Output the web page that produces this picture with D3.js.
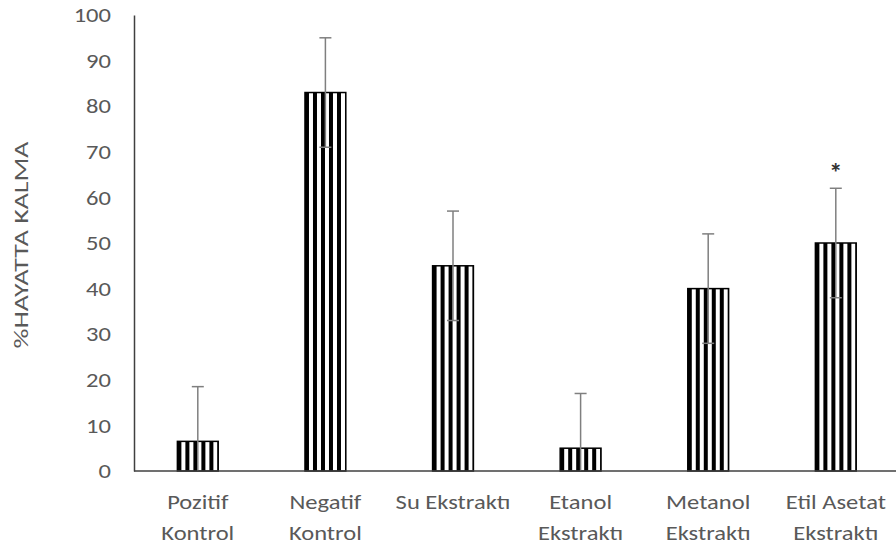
<!DOCTYPE html>
<html>
<head>
<meta charset="utf-8">
<script src="https://cdn.jsdelivr.net/npm/d3@7"></script>
<style>
  html, body { margin: 0; padding: 0; background: #fff; }
  svg { display: block; }
  text { font-family: Carlito, Calibri, Lato, "Open Sans", sans-serif; }
</style>
</head>
<body>
<svg id="chart" width="896" height="551"></svg>
<script>
// Survival (%) per treatment group, with standard deviation
const groups = [["Pozitif", "Kontrol"], ["Negatif", "Kontrol"], ["Su Ekstraktı"], ["Etanol", "Ekstraktı"], ["Metanol", "Ekstraktı"], ["Etil Asetat", "Ekstraktı"]];
const survival = [6.5, 83, 45, 5, 40, 50];
const sd = [12, 12, 12, 12, 12, 12];
const significance = ["", "", "", "", "", "*"];
const yTicks = [0, 10, 20, 30, 40, 50, 60, 70, 80, 90, 100];

const svg = d3.select("#chart");
const margin = { left: 134, right: 0, top: 15, bottom: 80 };
const W = 896, H = 551;
const FS = 21;        // label font size
const SX = 1.17;      // horizontal widening of label glyphs

const x = d3.scaleBand()
  .domain(d3.range(groups.length))
  .range([margin.left, margin.left + 6 * 127.6])
  .paddingInner(0.68)
  .paddingOuter(0.34);

const y = d3.scaleLinear().domain([0, 100]).range([H - margin.bottom, margin.top]);

// Vertical stripe fill, one pattern per bar so stripes start at the bar edge
const defs = svg.append("defs");
survival.forEach((v, i) => {
  const p = defs.append("pattern")
    .attr("id", "stripe" + i)
    .attr("patternUnits", "userSpaceOnUse")
    .attr("x", x(i))
    .attr("y", 0)
    .attr("width", 8)
    .attr("height", 8);
  p.append("rect").attr("width", 8).attr("height", 8).attr("fill", "#fff");
  p.append("rect").attr("x", 0).attr("width", 4).attr("height", 8).attr("fill", "#000");
});

// Y axis
const yAxis = d3.axisLeft(y).tickValues(yTicks).tickSize(0).tickPadding(23);
const gy = svg.append("g").attr("transform", `translate(${margin.left},0)`).call(yAxis);
gy.select(".domain").attr("stroke", "#404040").attr("stroke-width", 1.5);
gy.selectAll(".tick text")
  .attr("fill", "#595959")
  .attr("font-size", FS)
  .attr("font-family", "Carlito, Calibri, Lato, sans-serif")
  .attr("x", -23 / SX)
  .attr("transform", `scale(${SX},1)`);

// Y axis title
svg.append("text")
  .attr("transform", `translate(28,${(y(0) + y(100)) / 2 + 2}) rotate(-90)`)
  .attr("text-anchor", "middle")
  .attr("fill", "#595959")
  .attr("font-size", FS)
  .attr("textLength", 207)
  .attr("lengthAdjust", "spacingAndGlyphs")
  .text("%HAYATTA KALMA");

// Bars
svg.append("g").selectAll("rect")
  .data(survival)
  .join("rect")
  .attr("x", (d, i) => x(i))
  .attr("y", d => y(d))
  .attr("width", x.bandwidth())
  .attr("height", d => y(0) - y(d))
  .attr("fill", (d, i) => `url(#stripe${i})`)
  .attr("stroke", "#000")
  .attr("stroke-width", 1.5);

// Error bars (mean ± SD)
const eb = svg.append("g").attr("stroke", "#7f7f7f").attr("stroke-width", 1.5);
survival.forEach((v, i) => {
  const cx = x(i) + x.bandwidth() / 2;
  const hi = Math.min(100, v + sd[i]);
  const lo = Math.max(0, v - sd[i]);
  eb.append("line").attr("x1", cx).attr("x2", cx).attr("y1", y(lo)).attr("y2", y(hi));
  eb.append("line").attr("x1", cx - 6).attr("x2", cx + 6).attr("y1", y(hi)).attr("y2", y(hi));
  if (lo > 0) eb.append("line").attr("x1", cx - 6).attr("x2", cx + 6).attr("y1", y(lo)).attr("y2", y(lo));
});

// Significance markers
svg.append("g").selectAll("text")
  .data(survival)
  .join("text")
  .attr("x", (d, i) => x(i) + x.bandwidth() / 2)
  .attr("y", (d, i) => y(d + sd[i]) - 6)
  .attr("text-anchor", "middle")
  .attr("font-size", 27)
  .attr("font-weight", "bold")
  .attr("fill", "#333")
  .text((d, i) => significance[i]);

// X axis baseline
svg.append("line")
  .attr("x1", margin.left).attr("x2", W)
  .attr("y1", y(0)).attr("y2", y(0))
  .attr("stroke", "#404040").attr("stroke-width", 1.5);

// Category labels
const lab = svg.append("g").selectAll("text")
  .data(groups)
  .join("text")
  .attr("transform", (d, i) => `translate(${x(i) + x.bandwidth() / 2},${y(0) + 38}) scale(${SX},1)`)
  .attr("text-anchor", "middle")
  .attr("fill", "#595959")
  .attr("font-size", FS);
lab.selectAll("tspan")
  .data(d => d)
  .join("tspan")
  .attr("x", 0)
  .attr("dy", (d, j) => j === 0 ? 0 : 31)
  .text(d => d);
</script>
</body>
</html>
